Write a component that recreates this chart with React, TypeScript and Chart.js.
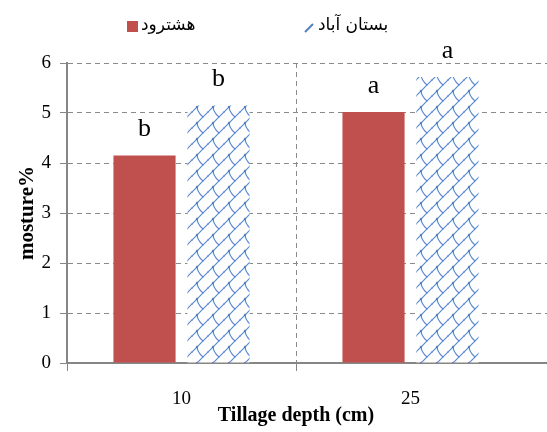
import React, { useEffect, useRef } from 'react';
import { Chart, registerables } from 'chart.js';

Chart.register(...registerables);

// ---- data ----
const categories = ['10', '25', ''];
const seriesNames = ['هشترود', 'بستان آباد'];
const hashtroodValues = [4.15, 5.02, null];
const bostanabadValues = [5.15, 5.72, null];
const hashtroodLetters = ['b', 'a'];
const bostanabadLetters = ['b', 'a'];
const yMin = 0;
const yMax = 6;
const yStep = 1;
const xTitle = 'Tillage depth (cm)';
const yTitle = 'mosture%';

const RED = '#C0504D';
const BLUE = '#4F81BD';
const GRID = '#8a8a8a';
const AXIS = '#868686';
const SERIF = '"Liberation Serif", "Times New Roman", serif';
const ARABIC = '"DejaVu Sans", sans-serif';

function makeHatch(): CanvasPattern | string {
  const s = 16;
  const c = document.createElement('canvas');
  c.width = s;
  c.height = s;
  const g = c.getContext('2d');
  if (!g) return BLUE;
  g.fillStyle = '#ffffff';
  g.fillRect(0, 0, s, s);
  g.strokeStyle = '#5b8bd0';
  g.lineWidth = 1.2;
  g.lineCap = 'round';
  for (const dx of [-s, 0, s]) {
    for (const dy of [-s, 0, s]) {
      g.beginPath();
      g.moveTo(dx, dy + s);
      g.lineTo(dx + s, dy);
      g.stroke();
      g.beginPath();
      g.moveTo(dx + 5, dy + 11);
      g.quadraticCurveTo(dx + 6, dy + 17, dx + 11, dy + 21);
      g.stroke();
      g.fillStyle = '#4F81BD';
      g.beginPath();
      g.arc(dx + 5, dy + 11, 1.2, 0, Math.PI * 2);
      g.fill();
    }
  }
  return g.createPattern(c, 'repeat') || BLUE;
}

const letterPlugin = {
  id: 'letters',
  afterDatasetsDraw(chart: any) {
    const ctx = chart.ctx;
    const letters = [hashtroodLetters, bostanabadLetters];
    ctx.save();
    ctx.font = '26px ' + SERIF;
    ctx.fillStyle = '#000';
    ctx.textAlign = 'center';
    ctx.textBaseline = 'bottom';
    letters.forEach((arr, i) => {
      const meta = chart.getDatasetMeta(i);
      arr.forEach((l, j) => {
        const el = meta.data[j];
        if (!el) return;
        ctx.fillText(l, el.x, el.y - 13);
      });
    });
    ctx.restore();
  },
};

const xTitlePlugin = {
  id: 'xTitle',
  afterDraw(chart: any) {
    const ctx = chart.ctx;
    const x = chart.scales.x;
    const cx = (x.getPixelForValue(0) + x.getPixelForValue(1)) / 2;
    ctx.save();
    ctx.font = 'bold 20px ' + SERIF;
    ctx.fillStyle = '#000';
    ctx.textAlign = 'center';
    ctx.textBaseline = 'middle';
    ctx.fillText(xTitle, cx, chart.chartArea.bottom + 53);
    ctx.restore();
  },
};

const legendPlugin = {
  id: 'customLegend',
  afterDraw(chart: any) {
    const ctx = chart.ctx;
    ctx.save();
    ctx.fillStyle = RED;
    ctx.fillRect(127, 21, 11, 11);
    ctx.font = '17px ' + ARABIC;
    ctx.fillStyle = '#000';
    ctx.textAlign = 'left';
    ctx.textBaseline = 'middle';
    ctx.fillText(seriesNames[0], 141, 26);
    ctx.strokeStyle = BLUE;
    ctx.lineWidth = 2;
    ctx.beginPath();
    ctx.moveTo(305, 32);
    ctx.lineTo(313, 24);
    ctx.stroke();
    ctx.fillStyle = '#000';
    ctx.fillText(seriesNames[1], 318, 26);
    ctx.restore();
  },
};

export default function App() {
  const ref = useRef<HTMLCanvasElement | null>(null);
  useEffect(() => {
    document.body.style.margin = '0';
    let chart: Chart | null = null;
    let cancelled = false;
    const build = () => {
      const canvas = ref.current;
      if (!canvas || cancelled) return;
      const hatch = makeHatch();
      chart = new Chart(canvas, {
        type: 'bar',
        data: {
          labels: categories,
          datasets: [
            {
              label: seriesNames[0],
              data: hashtroodValues,
              backgroundColor: RED,
              categoryPercentage: 0.646,
              barPercentage: 0.84,
            },
            {
              label: seriesNames[1],
              data: bostanabadValues,
              backgroundColor: hatch as any,
              categoryPercentage: 0.646,
              barPercentage: 0.84,
            },
          ],
        },
        options: {
          responsive: false,
          animation: false,
          devicePixelRatio: 1,
          layout: { padding: { top: 63, right: 0, bottom: 0, left: 0 } },
          plugins: {
            legend: { display: false },
            tooltip: { enabled: false },
          },
          scales: {
            x: {
              afterFit: (scale: any) => {
                scale.height = 69;
              },
              grid: {
                offset: true,
                color: (c: any) => (c.index === 1 ? GRID : 'rgba(0,0,0,0)'),
                tickColor: (c: any) => (c.index <= 1 ? AXIS : 'rgba(0,0,0,0)'),
                tickLength: 8,
                tickWidth: 1,
                lineWidth: 1,
              },
              border: { color: AXIS, width: 2, dash: [5, 4] },
              ticks: {
                color: '#000',
                padding: 17,
                font: { family: SERIF, size: 19 },
              },
              title: { display: false },
            },
            y: {
              min: yMin,
              max: yMax,
              afterFit: (scale: any) => {
                scale.width = 67;
              },
              grid: {
                color: GRID,
                tickColor: AXIS,
                tickLength: 7,
                tickWidth: 1,
                lineWidth: 1,
              },
              border: { color: AXIS, width: 2, dash: [5, 4] },
              ticks: {
                stepSize: yStep,
                color: '#000',
                padding: 9,
                font: { family: SERIF, size: 19 },
              },
              title: {
                display: true,
                text: yTitle,
                color: '#000',
                padding: { top: 15, bottom: 0 },
                font: { family: SERIF, size: 21, weight: 'bold' },
              },
            },
          },
        },
        plugins: [letterPlugin, xTitlePlugin, legendPlugin],
      } as any);
    };
    const fonts: any = (document as any).fonts;
    if (fonts && fonts.load) {
      Promise.all([
        fonts.load('19px "Liberation Serif"'),
        fonts.load('bold 20px "Liberation Serif"'),
        fonts.load('16px "DejaVu Sans"', 'هشترود'),
      ])
        .catch(() => null)
        .then(build);
    } else {
      build();
    }
    return () => {
      cancelled = true;
      if (chart) chart.destroy();
    };
  }, []);
  return (
    <div style={{ width: 547, height: 432, overflow: 'hidden', position: 'relative' }}>
      <canvas ref={ref} width={754} height={432} style={{ width: 754, height: 432, display: 'block' }} />
    </div>
  );
}
